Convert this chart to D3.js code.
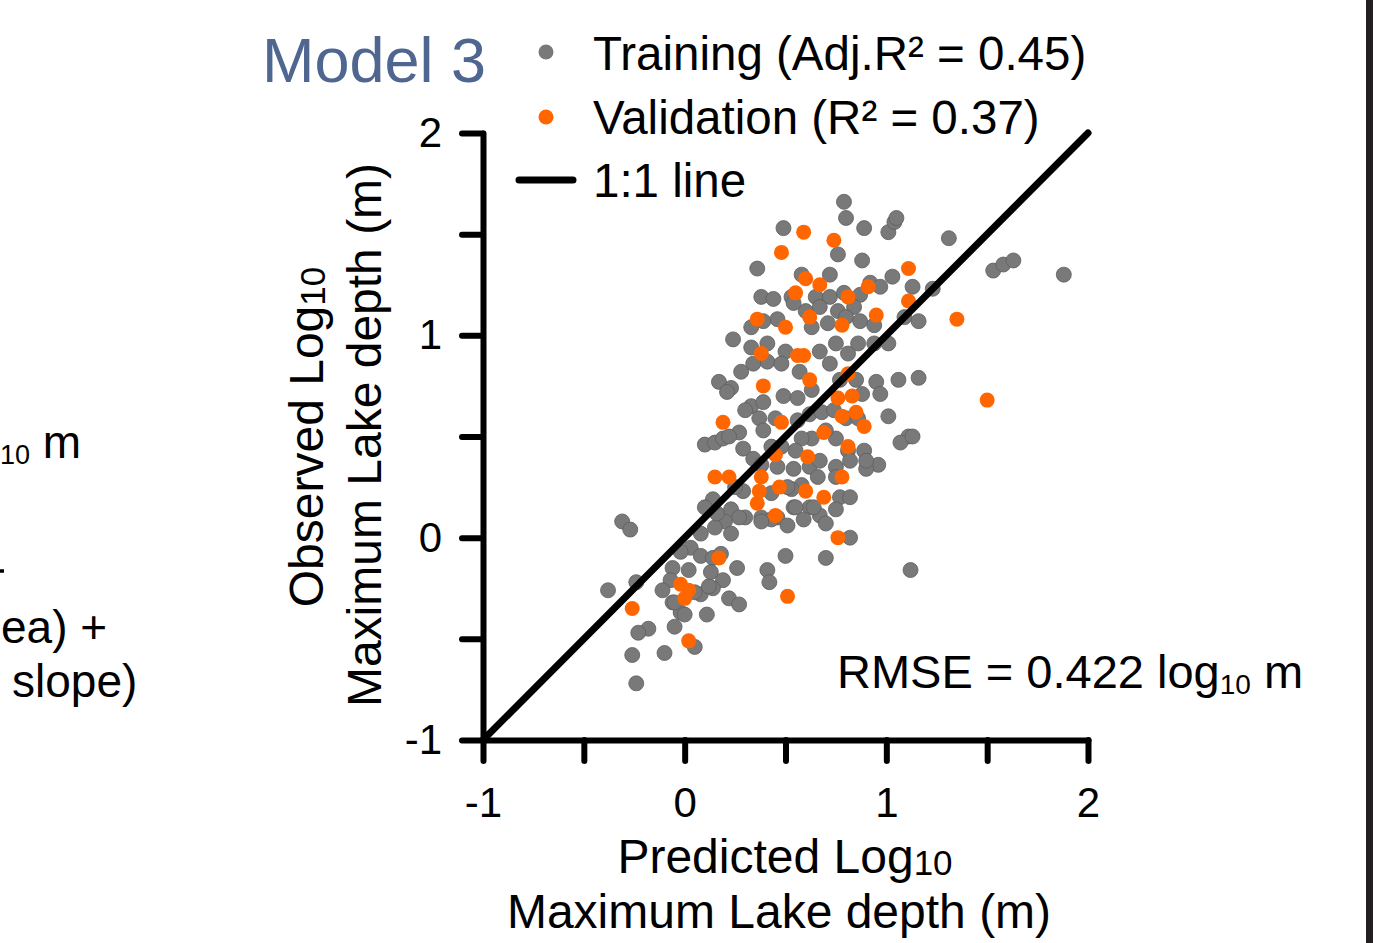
<!DOCTYPE html>
<html>
<head>
<meta charset="utf-8">
<script src="https://cdn.jsdelivr.net/npm/d3@7"></script>
<style>
  body { margin: 0; background: #fff; }
  svg { display: block; font-family: "Liberation Sans", Arial, sans-serif; }
</style>
</head>
<body>
<div id="chart"></div>
<script>
// Training points (predicted, observed), log10 m
var train_x = [0.79,0.80,0.49,0.89,1.01,1.04,1.05,1.31,0.76,0.36,0.58,0.88,0.72,1.53,1.58,1.63,1.88,1.03,1.23,1.13,0.92,
  0.38,0.44,0.53,0.65,0.72,0.79,0.87,0.97,0.84,0.76,0.67,0.60,0.54,0.46,0.39,0.33,0.63,0.71,0.80,0.87,0.94,1.09,1.16,
  0.41,0.24,0.33,0.50,0.67,0.75,0.86,0.94,1.01,0.41,0.34,0.28,0.48,0.57,0.72,0.81,0.17,0.23,0.21,0.33,0.39,0.49,0.56,
  0.63,0.77,0.85,0.88,0.95,1.06,1.16,0.97,0.10,0.15,0.19,0.30,0.37,0.45,0.56,0.62,0.68,0.74,0.80,0.86,1.01,1.11,1.07,
  0.96,0.89,0.81,0.75,0.70,0.63,0.58,0.55,0.48,0.43,0.39,0.27,0.22,0.29,0.34,0.38,0.46,0.54,0.62,0.67,0.75,0.82,0.90,
  0.66,0.58,0.53,0.43,0.29,0.25,0.14,0.10,0.23,0.30,0.38,0.46,0.54,0.62,0.77,0.82,0.75,0.67,0.59,0.51,0.43,0.27,0.20,
  0.15,0.08,0.03,0.08,0.14,0.18,0.26,0.41,0.50,0.70,0.42,0.19,0.14,0.08,0.02,-0.02,-0.06,-0.07,-0.11,-0.06,-0.02,0.05,
  -0.18,-0.23,-0.26,-0.10,0.05,0.22,0.27,-0.31,-0.27,-0.24,-0.38,-0.24,1.12,0.82,0.70,1.13,0.90,0.75,0.64,0.55,0.51,
  0.12,0.11,0.00,-0.05,-0.05,0.13,0.16,0.23,0.38];
var train_y = [1.66,1.58,1.53,1.53,1.51,1.56,1.58,1.48,1.40,1.33,1.30,1.37,1.30,1.32,1.35,1.37,1.30,1.29,1.23,1.24,1.26,
  1.19,1.18,1.19,1.19,1.19,1.21,1.20,1.24,1.14,1.12,1.14,1.12,1.16,1.08,1.07,1.04,1.04,1.06,1.09,1.07,1.05,1.09,1.07,
  0.96,0.98,0.94,0.92,0.92,0.96,0.96,0.96,0.96,0.87,0.86,0.82,0.86,0.82,0.86,0.91,0.77,0.74,0.72,0.65,0.67,0.70,0.69,
  0.73,0.78,0.78,0.71,0.77,0.78,0.79,0.71,0.46,0.47,0.49,0.63,0.59,0.59,0.58,0.61,0.62,0.63,0.59,0.59,0.60,0.50,0.47,
  0.36,0.43,0.43,0.49,0.53,0.49,0.49,0.43,0.45,0.45,0.53,0.52,0.50,0.44,0.39,0.36,0.35,0.34,0.35,0.38,0.35,0.38,0.34,
  0.30,0.26,0.24,0.22,0.23,0.25,0.19,0.15,0.14,0.10,0.10,0.10,0.15,0.15,0.20,0.20,0.14,0.11,0.09,0.06,0.09,0.10,0.08,
  0.05,0.02,-0.05,-0.09,-0.10,-0.08,-0.15,-0.16,-0.09,-0.10,-0.22,-0.21,-0.25,-0.28,-0.16,-0.07,-0.15,-0.21,-0.26,-0.32,-0.37,-0.27,
  -0.45,-0.47,-0.58,-0.57,-0.54,-0.30,-0.33,0.08,0.04,-0.22,-0.26,-0.72,-0.16,0.00,0.07,0.50,0.38,0.30,0.15,0.15,0.25,
  -0.24,-0.38,-0.38,-0.32,-0.44,-0.17,0.12,0.02,0.08];

// Validation points
var valid_x = [0.59,0.74,0.48,1.11,0.60,0.67,0.55,0.91,0.81,1.11,0.95,1.35,0.62,0.36,0.50,0.78,0.38,0.56,0.59,0.62,0.39,
  0.81,0.76,0.83,0.78,0.85,0.89,0.69,0.81,0.61,0.45,0.19,0.48,0.78,0.15,0.22,0.38,0.47,0.37,0.36,0.60,0.69,0.45,0.76,
  0.17,0.51,1.50,-0.02,0.02,0.00,-0.26,0.02];
var valid_y = [1.51,1.47,1.41,1.33,1.28,1.25,1.21,1.24,1.19,1.17,1.10,1.08,1.09,1.08,1.04,1.05,0.91,0.90,0.90,0.78,0.75,
  0.81,0.69,0.70,0.60,0.62,0.55,0.52,0.45,0.40,0.41,0.57,0.57,0.30,0.30,0.30,0.30,0.25,0.23,0.17,0.23,0.20,0.11,0.00,
  -0.10,-0.29,0.68,-0.23,-0.26,-0.30,-0.35,-0.51];

var x_domain = [-1, 2];
var y_domain = [-1, 2];
var tick_values = [-1, -0.5, 0, 0.5, 1, 1.5, 2];
var tick_labels = ['-1', '', '0', '', '1', '', '2'];

var width = 1386;
var height = 943;
var svg = d3.select('#chart')
    .append('svg')
    .attr('width', width)
    .attr('height', height);

svg.append('rect').attr('width', width).attr('height', height).attr('fill', '#fff');

// scales
var x_scale = d3.scaleLinear().domain(x_domain).range([483, 1088]);
var y_scale = d3.scaleLinear().domain(y_domain).range([740, 133]);

var grey = '#797979';
var orange = '#ff6600';

// points
svg.append('g').selectAll('circle')
    .data(d3.range(train_x.length))
    .enter()
    .append('circle')
    .attr('cx', function (i) { return x_scale(train_x[i]); })
    .attr('cy', function (i) { return y_scale(train_y[i]); })
    .attr('r', 7.5)
    .attr('fill', grey)
    .attr('stroke', '#5e5e5e')
    .attr('stroke-width', 0.8);

svg.append('g').selectAll('circle')
    .data(d3.range(valid_x.length))
    .enter()
    .append('circle')
    .attr('cx', function (i) { return x_scale(valid_x[i]); })
    .attr('cy', function (i) { return y_scale(valid_y[i]); })
    .attr('r', 7.5)
    .attr('fill', orange);

// 1:1 line
svg.append('line')
    .attr('x1', x_scale(-1)).attr('y1', y_scale(-1))
    .attr('x2', x_scale(2)).attr('y2', y_scale(2))
    .attr('stroke', '#000')
    .attr('stroke-width', 7)
    .attr('stroke-linecap', 'round');

// axes
function fmt(d) { return tick_labels[tick_values.indexOf(d)]; }

var x_axis = svg.append('g')
    .attr('transform', 'translate(0,' + y_scale(-1) + ')')
    .call(d3.axisBottom(x_scale).tickValues(tick_values).tickFormat(fmt)
        .tickSize(21).tickSizeOuter(0).tickPadding(26));

var y_axis = svg.append('g')
    .attr('transform', 'translate(' + x_scale(-1) + ',0)')
    .call(d3.axisLeft(y_scale).tickValues(tick_values).tickFormat(fmt)
        .tickSize(21).tickSizeOuter(0).tickPadding(20));

[x_axis, y_axis].forEach(function (ax) {
    ax.selectAll('path, line')
        .attr('stroke', '#000')
        .attr('stroke-width', 6)
        .attr('stroke-linecap', 'round');
    ax.selectAll('text')
        .attr('fill', '#000')
        .attr('font-family', '"Liberation Sans", Arial, sans-serif')
        .attr('font-size', 42);
});

// axis titles
var xt = svg.append('g').attr('font-size', 48).attr('text-anchor', 'middle');
var xt1 = xt.append('text').attr('x', 785).attr('y', 873);
xt1.append('tspan').text('Predicted Log');
xt1.append('tspan').attr('font-size', 35).attr('dy', 2).text('10');
xt.append('text').attr('x', 779).attr('y', 928).text('Maximum Lake depth (m)');

var yt = svg.append('g').attr('font-size', 48).attr('text-anchor', 'middle')
    .attr('transform', 'translate(323,437) rotate(-90)');
var yt1 = yt.append('text').attr('x', 0).attr('y', 0);
yt1.append('tspan').text('Observed Log');
yt1.append('tspan').attr('font-size', 35).attr('dy', 2).text('10');
yt.append('text').attr('x', 2).attr('y', 58).text('Maximum Lake depth (m)');

// title
svg.append('text')
    .attr('x', 262).attr('y', 82)
    .attr('font-size', 63)
    .attr('fill', '#4f6691')
    .text('Model 3');

// legend
var legend = svg.append('g').attr('font-size', 47.5);
legend.append('circle').attr('cx', 546).attr('cy', 52).attr('r', 7.5).attr('fill', grey);
legend.append('text').attr('x', 593).attr('y', 70).text('Training (Adj.R² = 0.45)');
legend.append('circle').attr('cx', 546).attr('cy', 117).attr('r', 7.5).attr('fill', orange);
legend.append('text').attr('x', 593).attr('y', 134).text('Validation (R² = 0.37)');
legend.append('line').attr('x1', 519).attr('x2', 573).attr('y1', 180).attr('y2', 180)
    .attr('stroke', '#000').attr('stroke-width', 7).attr('stroke-linecap', 'round');
legend.append('text').attr('x', 593).attr('y', 197).text('1:1 line');

// RMSE
var rmse = svg.append('text').attr('x', 837).attr('y', 688).attr('font-size', 47);
rmse.append('tspan').text('RMSE = 0.422 log');
rmse.append('tspan').attr('font-size', 28).attr('dy', 6).text('10');
rmse.append('tspan').attr('dy', -6).text(' m');

// visible fragments of the neighbouring panel's text
var left = svg.append('g').attr('font-size', 46);
var l1 = left.append('text').attr('x', 0).attr('y', 458);
l1.append('tspan').attr('font-size', 27).attr('dy', 6).text('10');
l1.append('tspan').attr('dy', -6).text(' m');
left.append('line').attr('x1', 0).attr('x2', 4).attr('y1', 571).attr('y2', 571)
    .attr('stroke', '#000').attr('stroke-width', 3.5);
left.append('text').attr('x', 1).attr('y', 643).text('ea) +');
left.append('text').attr('x', 12).attr('y', 697).text('slope)');

// dark frame edge at right
svg.append('rect').attr('x', 1366).attr('y', 0).attr('width', 7).attr('height', height).attr('fill', '#231f20');
</script>
</body>
</html>
